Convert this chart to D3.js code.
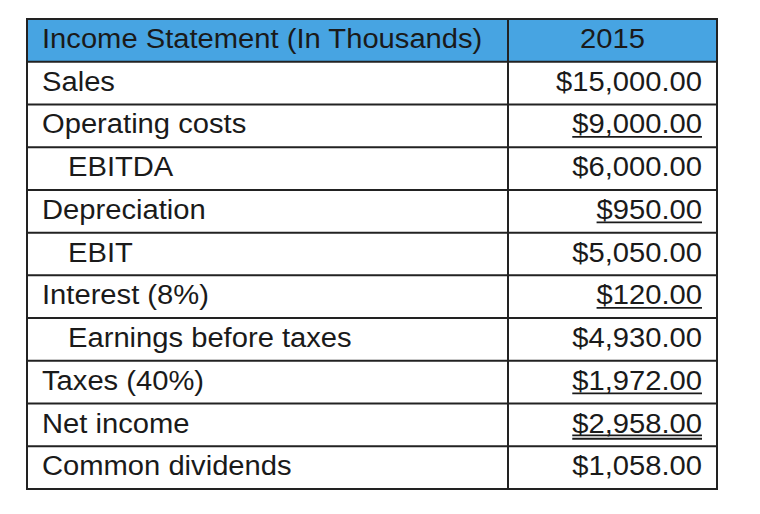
<!DOCTYPE html>
<html>
<head>
<meta charset="utf-8">
<script src="https://cdn.jsdelivr.net/npm/d3@7"></script>
<style>
  body { margin: 0; background: #fff; }
  text { font-family: "Liberation Sans", Arial, sans-serif; font-size: 27px; fill: #1a1a1a; }
</style>
</head>
<body>
<div id="table"></div>
<script>
// table contents
var headerLabel = "Income Statement (In Thousands)"
var headerYear = "2015"
var items = ["Sales", "Operating costs", "EBITDA", "Depreciation", "EBIT", "Interest (8%)",
             "Earnings before taxes", "Taxes (40%)", "Net income", "Common dividends"]
var values = [15000, 9000, 6000, 950, 5050, 120, 4930, 1972, 2958, 1058]
var indented = [false, false, true, false, true, false, true, false, false, false]
// 0 = none, 1 = single underline, 2 = double underline
var underline = [0, 1, 0, 1, 0, 1, 0, 1, 2, 0]

var widthSvg = 760
var heightSvg = 514
// table edges (avoid "top", it clashes with window.top)
var tLeft = 27, tRight = 717, tTop = 19, tBottom = 489
var splitX = 508
var padX = 15
// the reference glyphs are a bit wider than Liberation Sans
var stretch = 1.08

var svg = d3.select("#table")
  .append("svg")
  .attr("width", widthSvg)
  .attr("height", heightSvg)

// one band per row, header included
var rows = ["header"].concat(items)
var y = d3.scaleBand()
  .domain(d3.range(rows.length))
  .range([tTop, tBottom])

var money = d3.format("$,.2f")

function widen(sel) {
  sel.each(function() {
    var w = this.getComputedTextLength()
    d3.select(this)
      .attr("textLength", w * stretch)
      .attr("lengthAdjust", "spacingAndGlyphs")
  })
}

// header fill
svg.append("rect")
  .attr("x", tLeft).attr("y", y(0))
  .attr("width", tRight - tLeft).attr("height", y.bandwidth())
  .attr("fill", "#47a4e2")

// header text
svg.append("text")
  .attr("x", tLeft + padX)
  .attr("y", y(0) + 28.5)
  .text(headerLabel)
  .call(widen)
svg.append("text")
  .attr("x", (splitX + tRight) / 2)
  .attr("y", y(0) + 28.5)
  .attr("text-anchor", "middle")
  .text(headerYear)
  .call(widen)

// body rows
var body = svg.selectAll(".row")
  .data(items)
  .enter()
  .append("g")
  .attr("class", "row")
  .attr("transform", function(d, i) { return "translate(0," + y(i + 1) + ")" })

body.append("text")
  .attr("x", function(d, i) { return indented[i] ? tLeft + 41 : tLeft + padX })
  .attr("y", 29)
  .text(function(d) { return d })
  .call(widen)

var valueText = body.append("text")
  .attr("class", "val")
  .attr("x", tRight - padX)
  .attr("y", 29)
  .attr("text-anchor", "end")
  .text(function(d, i) { return money(values[i]) })
  .call(widen)

// underlines drawn from the measured value widths
valueText.each(function(d, i) {
  var w = +d3.select(this).attr("textLength")
  var g = d3.select(this.parentNode)
  var lines = underline[i] === 2 ? [31.8, 35.2] : underline[i] === 1 ? [32.5] : []
  lines.forEach(function(ly) {
    g.append("line")
      .attr("x1", tRight - padX - w).attr("x2", tRight - padX)
      .attr("y1", ly).attr("y2", ly)
      .attr("stroke", "#1a1a1a")
      .attr("stroke-width", 1.8)
  })
})

// grid lines
svg.selectAll(".hline")
  .data(d3.range(1, rows.length))
  .enter()
  .append("line")
  .attr("x1", tLeft).attr("x2", tRight)
  .attr("y1", function(d) { return y(d) })
  .attr("y2", function(d) { return y(d) })
  .attr("stroke", "#222")
  .attr("stroke-width", 2)

svg.append("line")
  .attr("x1", splitX).attr("x2", splitX)
  .attr("y1", tTop).attr("y2", tBottom)
  .attr("stroke", "#222")
  .attr("stroke-width", 2)

svg.append("rect")
  .attr("x", tLeft).attr("y", tTop)
  .attr("width", tRight - tLeft).attr("height", tBottom - tTop)
  .attr("fill", "none")
  .attr("stroke", "#222")
  .attr("stroke-width", 2)
</script>
</body>
</html>
